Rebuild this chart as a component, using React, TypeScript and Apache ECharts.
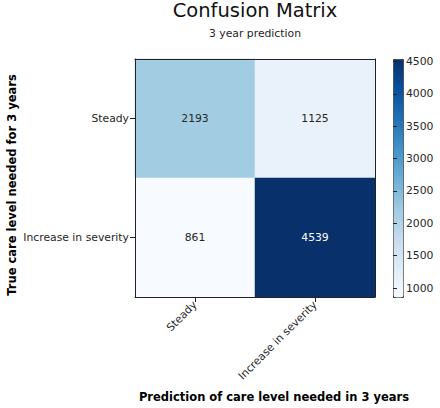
import React, { useEffect, useRef } from "react";
import * as echarts from "echarts";

const categories = ["Steady", "Increase in severity"];
// rows: true label, cols: predicted label
const matrixValues = [
  [2193, 1125],
  [861, 4539],
];
const colorbarTicks = [1000, 1500, 2000, 2500, 3000, 3500, 4000, 4500];
const bluesStops = [
  "#f7fbff", "#deebf7", "#c6dbef", "#9ecae1", "#6baed6",
  "#4292c6", "#2171b5", "#08519c", "#08306b",
];
const titleText = "Confusion Matrix";
const subtitleText = "3 year prediction";
const xTitle = "Prediction of care level needed in 3 years";
const yTitle = "True care level needed for 3 years";

const FONT = "DejaVu Sans";
const TXT = "#262626";

export default function App() {
  const ref = useRef<HTMLDivElement>(null);
  useEffect(() => {
    document.body.style.margin = "0";
    if (!ref.current) return;
    const chart = echarts.init(ref.current, undefined, { renderer: "svg" });
    const all = matrixValues.flat();
    const vmin = Math.min(...all);
    const vmax = Math.max(...all);
    const thresh = vmax / 2;
    const data: any[] = [];
    matrixValues.forEach((row, r) =>
      row.forEach((v, c) => {
        data.push({
          value: [c, r, v],
          label: { color: v > thresh ? "#ffffff" : TXT },
        });
      })
    );
    const grid = { left: 135, top: 59, width: 240, height: 238 };
    const cb = { left: 393, top: 59, width: 10, height: 238 };
    chart.setOption({
      animation: false,
      backgroundColor: "#ffffff",
      textStyle: { fontFamily: FONT },
      title: [
        {
          text: titleText,
          subtext: subtitleText,
          left: 255,
          top: 0,
          padding: 0,
          textAlign: "center",
          itemGap: 8,
          textStyle: { fontFamily: FONT, fontSize: 19.5, fontWeight: "normal", color: "#111" },
          subtextStyle: { fontFamily: FONT, fontSize: 10.8, color: TXT },
        },
      ],
      grid: [
        { ...grid, show: false },
        { ...cb, show: false },
      ],
      xAxis: [
        {
          type: "category",
          gridIndex: 0,
          data: categories,
          position: "bottom",
          z: 5,
          axisLine: { show: true, lineStyle: { color: "#222", width: 1 } },
          axisTick: { show: true, alignWithLabel: true, length: 5, lineStyle: { color: "#222" } },
          axisLabel: { rotate: 45, fontSize: 10.8, color: TXT, margin: 6, fontFamily: FONT },
          splitLine: { show: false },
        },
        {
          type: "category",
          gridIndex: 0,
          data: categories,
          position: "top",
          z: 5,
          axisLine: { show: true, lineStyle: { color: "#222", width: 1 } },
          axisTick: { show: false },
          axisLabel: { show: false },
        },
        {
          type: "value",
          gridIndex: 1,
          show: false,
          min: 0,
          max: 1,
        },
      ],
      yAxis: [
        {
          type: "category",
          gridIndex: 0,
          data: categories,
          inverse: true,
          position: "left",
          z: 5,
          axisLine: { show: true, lineStyle: { color: "#222", width: 1 } },
          axisTick: { show: true, alignWithLabel: true, length: 5, lineStyle: { color: "#222" } },
          axisLabel: { fontSize: 10.8, color: TXT, margin: 6, fontFamily: FONT },
          splitLine: { show: false },
        },
        {
          type: "category",
          gridIndex: 0,
          data: categories,
          inverse: true,
          position: "right",
          z: 5,
          axisLine: { show: true, lineStyle: { color: "#222", width: 1 } },
          axisTick: { show: false },
          axisLabel: { show: false },
        },
        {
          type: "value",
          gridIndex: 1,
          position: "right",
          min: vmin,
          max: vmax,
          z: 5,
          axisLine: { show: false },
          axisTick: {
            show: true,
            length: 4,
            customValues: colorbarTicks,
            lineStyle: { color: "#222" },
          },
          axisLabel: {
            show: true,
            customValues: colorbarTicks,
            fontSize: 10.8,
            color: TXT,
            margin: 3,
            fontFamily: FONT,
            formatter: (v: number) => String(v),
          },
          splitLine: { show: false },
        },
      ],
      visualMap: {
        type: "continuous",
        seriesIndex: 0,
        dimension: 2,
        min: vmin,
        max: vmax,
        calculable: false,
        hoverLink: false,
        left: cb.left,
        top: cb.top,
        itemWidth: cb.width,
        itemHeight: cb.height,
        padding: 0,
        borderColor: "#333",
        borderWidth: 1,
        inRange: { color: bluesStops },
        textStyle: { fontSize: 0 },
      },
      series: [
        {
          type: "heatmap",
          xAxisIndex: 0,
          yAxisIndex: 0,
          data,
          label: {
            show: true,
            fontSize: 10.8,
            fontFamily: FONT,
            formatter: (p: any) => String(p.value[2]),
          },
          emphasis: { disabled: true },
        },
      ],
      graphic: [
        {
          type: "text",
          x: 274,
          y: 397,
          style: {
            text: xTitle,
            font: `bold 11.5px "${FONT}"`,
            fill: "#000",
            textAlign: "center",
            textVerticalAlign: "middle",
          },
        },
        {
          type: "text",
          x: 12,
          y: 185,
          rotation: Math.PI / 2,
          style: {
            text: yTitle,
            font: `bold 11.5px "${FONT}"`,
            fill: "#000",
            textAlign: "center",
            textVerticalAlign: "middle",
          },
        },
      ],
    });
    return () => chart.dispose();
  }, []);
  return <div ref={ref} style={{ width: 440, height: 408 }} />;
}
